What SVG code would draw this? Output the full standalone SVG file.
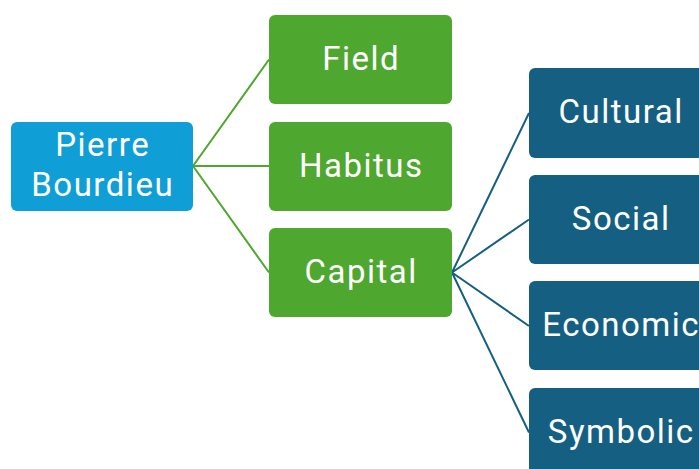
<svg xmlns="http://www.w3.org/2000/svg" width="699" height="469" viewBox="0 0 699 469">
<style>
.t{font-family:Roboto,"Noto Sans",sans-serif;font-size:33px;letter-spacing:1.5px;fill:#ffffff;text-anchor:middle}
.root{fill:#0F9ED5}
.l1{fill:#4EA72E}
.l2{fill:#156082}
.cg{stroke:#4EA72E;stroke-width:2;fill:none}
.cb{stroke:#156082;stroke-width:2;fill:none}
</style>
<g id="connectors">
<path class="cg" d="M193,166 L269,59.5 M193,166 L269,166 M193,166 L269,272.5"/>
<path class="cb" d="M452,272.5 L529,113 M452,272.5 L529,219.5 M452,272.5 L529,326 M452,272.5 L529,432.5"/>
</g>
<g id="pierre-bourdieu">
<rect class="root" x="11" y="122" width="182" height="89" rx="6"/>
<text class="t" x="102.7" y="156">Pierre</text>
<text class="t" x="102.7" y="196">Bourdieu</text>
</g>
<g id="field">
<rect class="l1" x="269" y="15" width="183" height="89" rx="6"/>
<text class="t" x="361.2" y="70">Field</text>
</g>
<g id="habitus">
<rect class="l1" x="269" y="122" width="183" height="89" rx="6"/>
<text class="t" x="361.2" y="177">Habitus</text>
</g>
<g id="capital">
<rect class="l1" x="269" y="228" width="183" height="89" rx="6"/>
<text class="t" x="361.2" y="283">Capital</text>
</g>
<g id="cultural">
<rect class="l2" x="529" y="68" width="183" height="90" rx="6"/>
<text class="t" x="621.2" y="123">Cultural</text>
</g>
<g id="social">
<rect class="l2" x="529" y="175" width="183" height="89" rx="6"/>
<text class="t" x="621.2" y="230">Social</text>
</g>
<g id="economic">
<rect class="l2" x="529" y="281" width="183" height="89" rx="6"/>
<text class="t" x="621.2" y="336">Economic</text>
</g>
<g id="symbolic">
<rect class="l2" x="529" y="388" width="183" height="89" rx="6"/>
<text class="t" x="621.2" y="443">Symbolic</text>
</g>
</svg>
